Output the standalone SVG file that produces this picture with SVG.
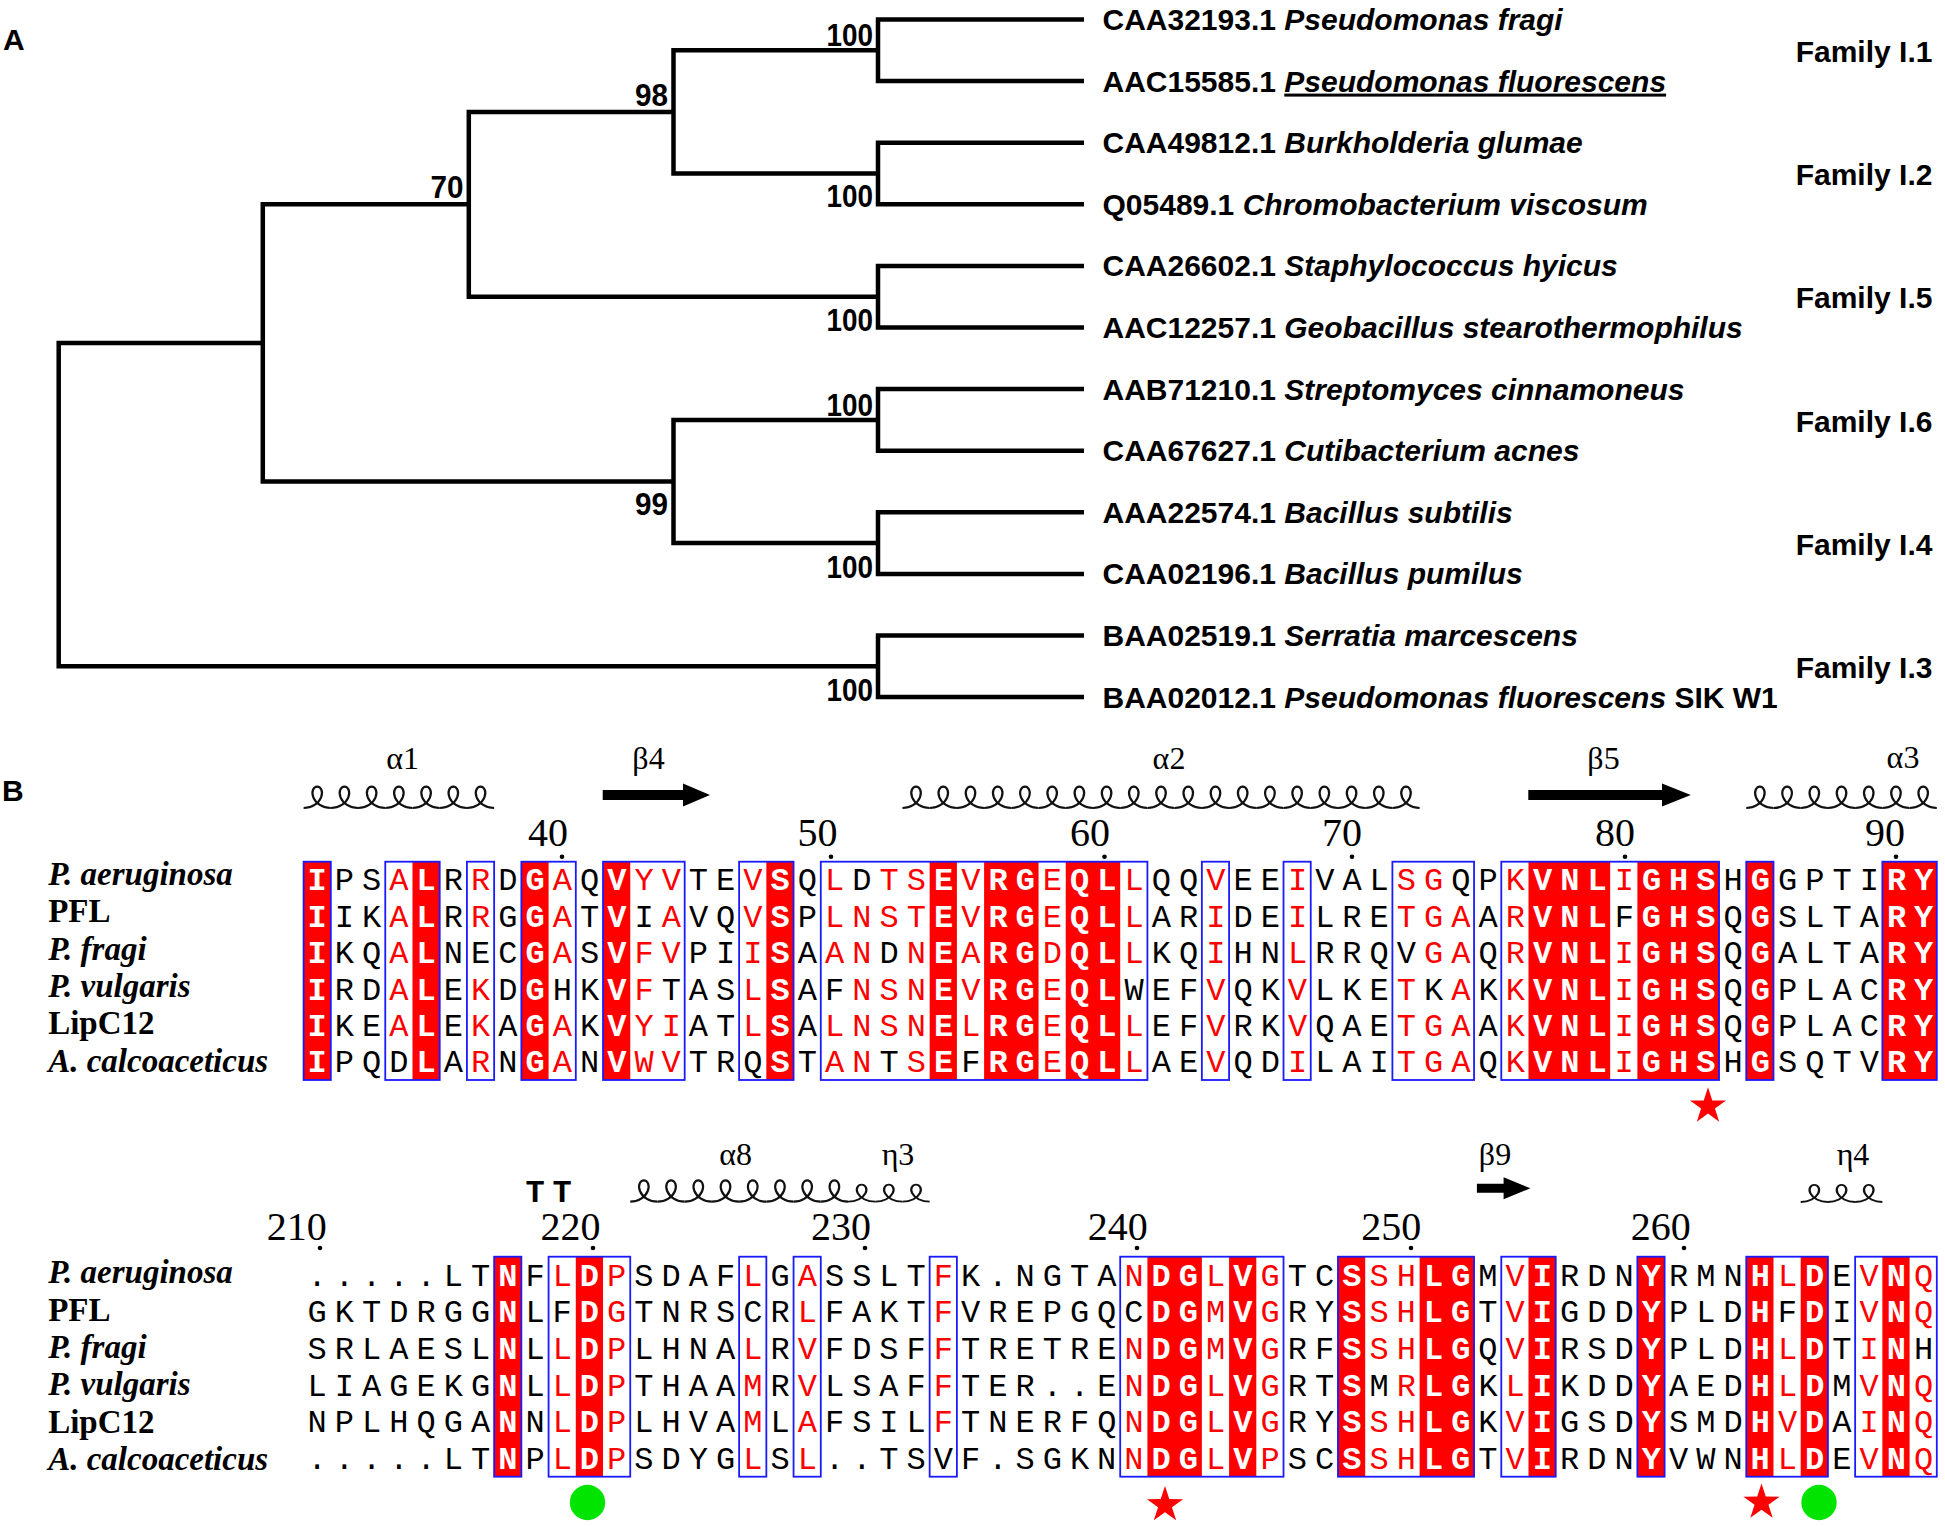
<svg xmlns="http://www.w3.org/2000/svg" width="1945" height="1526" viewBox="0 0 1945 1526">
<style>
.tree{fill:none;stroke:#000;stroke-width:4.5;stroke-linecap:butt;stroke-linejoin:miter}
.lf{font-family:"Liberation Sans",Arial,sans-serif;font-weight:bold;font-size:30px;fill:#000}
.it{font-style:italic}
.ul{text-decoration:underline}
.bs{font-family:"Liberation Sans",Arial,sans-serif;font-weight:bold;font-size:32px;text-anchor:end;fill:#000}
.pl{font-family:"Liberation Sans",Arial,sans-serif;font-weight:bold;font-size:30px;fill:#000}
.nm{font-family:"Liberation Serif","Times New Roman",serif;font-weight:bold;font-style:italic;font-size:33px;fill:#000}
.up{font-style:normal}
.s{font-family:"Liberation Mono","Courier New",monospace;font-size:32px;letter-spacing:8.017px;fill:#000}
.r{fill:#ff0000}
.w{fill:#fff;font-weight:bold}
.num{font-family:"Liberation Serif","Times New Roman",serif;font-size:40px;text-anchor:end;fill:#000}
.ss{font-family:"Liberation Serif","Times New Roman",serif;font-size:32px;text-anchor:middle;fill:#000}
.tt{font-family:"Liberation Mono","Courier New",monospace;font-weight:bold;font-size:32px;text-anchor:middle;fill:#000}
.cf{fill:#ff0000}
.bx{fill:none;stroke:#1a1aff;stroke-width:1.8}
.hx{fill:none;stroke:#111;stroke-width:2.2}
.arr{fill:#000}
.star{fill:#ff0000}
.gc{fill:#00e400}
</style>
<defs>
<path id="loop" d="M0,0 C3.935,0 7.853,-1.153 10.968,-3.134 C14.083,-5.115 16.371,-7.899 17.505,-10.7 C18.639,-13.501 18.62,-16.285 17.773,-18.266 C16.926,-20.247 15.276,-21.4 13.609,-21.4 C11.942,-21.4 10.293,-20.247 9.446,-18.266 C8.599,-16.285 8.58,-13.501 9.714,-10.7 C10.848,-7.899 13.135,-5.115 16.25,-3.134 C19.365,-1.153 23.283,0 27.22,0"/>
<polygon id="star5" points="0,-19 4.291,-5.906 18.07,-5.871 6.943,2.256 11.168,15.371 0,7.3 -11.168,15.371 -6.943,2.256 -18.07,-5.871 -4.291,-5.906"/>
</defs>
<rect width="1945" height="1526" fill="#fff"/>

<!-- Panel A -->
<text class="pl" x="3" y="50">A</text>
<g id="tree-connectors" class="tree">
<path d="M262.8,342.9 H58.7 V666.3 H878"/>
<path d="M468.8,204.3 H262.8 V481.5 H673.5"/>
<path d="M673.5,111.9 H468.8 V296.7 H878"/>
<path d="M878,50.3 H673.5 V173.5 H878"/>
<path d="M878,419.9 H673.5 V543.1 H878"/>
<path d="M1084,19.5 H878 V81.1 H1084"/>
<path d="M1084,142.7 H878 V204.3 H1084"/>
<path d="M1084,265.9 H878 V327.5 H1084"/>
<path d="M1084,389.1 H878 V450.7 H1084"/>
<path d="M1084,512.3 H878 V573.9 H1084"/>
<path d="M1084,635.5 H878 V697.1 H1084"/>
</g>
<g id="bootstrap">
<text class="bs" x="873" y="45.5" textLength="46.5" lengthAdjust="spacingAndGlyphs">100</text>
<text class="bs" x="668" y="105.5" textLength="33" lengthAdjust="spacingAndGlyphs">98</text>
<text class="bs" x="463.6" y="198.3" textLength="33" lengthAdjust="spacingAndGlyphs">70</text>
<text class="bs" x="873" y="206.6" textLength="46.5" lengthAdjust="spacingAndGlyphs">100</text>
<text class="bs" x="873" y="330.6" textLength="46.5" lengthAdjust="spacingAndGlyphs">100</text>
<text class="bs" x="873" y="415.5" textLength="46.5" lengthAdjust="spacingAndGlyphs">100</text>
<text class="bs" x="668" y="515" textLength="33" lengthAdjust="spacingAndGlyphs">99</text>
<text class="bs" x="873" y="577.6" textLength="46.5" lengthAdjust="spacingAndGlyphs">100</text>
<text class="bs" x="873" y="701" textLength="46.5" lengthAdjust="spacingAndGlyphs">100</text>
</g>
<g id="leaf-CAA32193"><text class="lf" x="1102.5" y="30">CAA32193.1 <tspan class="it">Pseudomonas fragi</tspan></text></g>
<g id="leaf-AAC15585"><text class="lf" x="1102.5" y="91.6">AAC15585.1 <tspan class="it ul">Pseudomonas fluorescens</tspan></text></g>
<g id="leaf-CAA49812"><text class="lf" x="1102.5" y="153.2">CAA49812.1 <tspan class="it">Burkholderia glumae</tspan></text></g>
<g id="leaf-Q05489"><text class="lf" x="1102.5" y="214.8">Q05489.1 <tspan class="it">Chromobacterium viscosum</tspan></text></g>
<g id="leaf-CAA26602"><text class="lf" x="1102.5" y="276.4">CAA26602.1 <tspan class="it">Staphylococcus hyicus</tspan></text></g>
<g id="leaf-AAC12257"><text class="lf" x="1102.5" y="338">AAC12257.1 <tspan class="it">Geobacillus stearothermophilus</tspan></text></g>
<g id="leaf-AAB71210"><text class="lf" x="1102.5" y="399.6">AAB71210.1 <tspan class="it">Streptomyces cinnamoneus</tspan></text></g>
<g id="leaf-CAA67627"><text class="lf" x="1102.5" y="461.2">CAA67627.1 <tspan class="it">Cutibacterium acnes</tspan></text></g>
<g id="leaf-AAA22574"><text class="lf" x="1102.5" y="522.8">AAA22574.1 <tspan class="it">Bacillus subtilis</tspan></text></g>
<g id="leaf-CAA02196"><text class="lf" x="1102.5" y="584.4">CAA02196.1 <tspan class="it">Bacillus pumilus</tspan></text></g>
<g id="leaf-BAA02519"><text class="lf" x="1102.5" y="646">BAA02519.1 <tspan class="it">Serratia marcescens</tspan></text></g>
<g id="leaf-BAA02012"><text class="lf" x="1102.5" y="707.6">BAA02012.1 <tspan class="it">Pseudomonas fluorescens</tspan> SIK W1</text></g>
<g id="families">
<text class="lf" x="1795.7" y="62">Family I.1</text>
<text class="lf" x="1795.7" y="185.2">Family I.2</text>
<text class="lf" x="1795.7" y="308.4">Family I.5</text>
<text class="lf" x="1795.7" y="431.6">Family I.6</text>
<text class="lf" x="1795.7" y="554.8">Family I.4</text>
<text class="lf" x="1795.7" y="678">Family I.3</text>
</g>

<!-- Panel B -->
<text class="pl" x="2" y="801">B</text>

<g id="block1">
<g id="b1-ss">
<text class="ss" x="402.6" y="769">α1</text>
<text class="ss" x="648.5" y="769">β4</text>
<text class="ss" x="1169" y="769">α2</text>
<text class="ss" x="1603.5" y="769">β5</text>
<text class="ss" x="1903" y="768">α3</text>
<g class="hx">
<use href="#loop" x="303.6" y="808"/><use href="#loop" x="330.82" y="808"/><use href="#loop" x="358.04" y="808"/><use href="#loop" x="385.26" y="808"/><use href="#loop" x="412.48" y="808"/><use href="#loop" x="439.7" y="808"/><use href="#loop" x="466.92" y="808"/>
<use href="#loop" x="902.44" y="808"/><use href="#loop" x="929.66" y="808"/><use href="#loop" x="956.88" y="808"/><use href="#loop" x="984.1" y="808"/><use href="#loop" x="1011.32" y="808"/><use href="#loop" x="1038.54" y="808"/><use href="#loop" x="1065.76" y="808"/><use href="#loop" x="1092.98" y="808"/><use href="#loop" x="1120.2" y="808"/><use href="#loop" x="1147.42" y="808"/><use href="#loop" x="1174.64" y="808"/><use href="#loop" x="1201.86" y="808"/><use href="#loop" x="1229.08" y="808"/><use href="#loop" x="1256.3" y="808"/><use href="#loop" x="1283.52" y="808"/><use href="#loop" x="1310.74" y="808"/><use href="#loop" x="1337.96" y="808"/><use href="#loop" x="1365.18" y="808"/><use href="#loop" x="1392.4" y="808"/>
<use href="#loop" x="1746.26" y="808"/><use href="#loop" x="1773.48" y="808"/><use href="#loop" x="1800.7" y="808"/><use href="#loop" x="1827.92" y="808"/><use href="#loop" x="1855.14" y="808"/><use href="#loop" x="1882.36" y="808"/><use href="#loop" x="1909.58" y="808"/>
</g>
<polygon class="arr" points="602.7,790 683,790 683,783.5 710,795 683,806.5 683,800 602.7,800"/>
<polygon class="arr" points="1528.3,790 1662,790 1662,783.5 1690.8,795 1662,806.5 1662,800 1528.3,800"/>
</g>
<g id="b1-numbers">
<text class="num" x="568" y="846">40</text>
<text class="num" x="837.5" y="846">50</text>
<text class="num" x="1110" y="846">60</text>
<text class="num" x="1362" y="846">70</text>
<text class="num" x="1635" y="846">80</text>
<text class="num" x="1905" y="846">90</text>
<circle cx="562" cy="856.7" r="2.3"/><circle cx="831" cy="856.7" r="2.3"/><circle cx="1104.5" cy="856.7" r="2.3"/><circle cx="1352" cy="856.7" r="2.3"/><circle cx="1625" cy="856.7" r="2.3"/><circle cx="1896" cy="856.7" r="2.3"/>
</g>
<g id="b1-fill" class="cf">
<rect x="303.6" y="861.7" width="27.22" height="218.3"/>
<rect x="412.48" y="861.7" width="27.22" height="218.3"/>
<rect x="521.36" y="861.7" width="27.22" height="218.3"/>
<rect x="603.02" y="861.7" width="27.22" height="218.3"/>
<rect x="766.34" y="861.7" width="27.22" height="218.3"/>
<rect x="929.66" y="861.7" width="27.22" height="218.3"/>
<rect x="984.1" y="861.7" width="54.44" height="218.3"/>
<rect x="1065.76" y="861.7" width="54.44" height="218.3"/>
<rect x="1528.5" y="861.7" width="81.66" height="218.3"/>
<rect x="1637.38" y="861.7" width="81.66" height="218.3"/>
<rect x="1746.26" y="861.7" width="27.22" height="218.3"/>
<rect x="1882.36" y="861.7" width="54.44" height="218.3"/>
</g>
<g id="b1-boxes" class="bx">
<rect x="303.6" y="861.7" width="27.22" height="218.3"/>
<rect x="385.26" y="861.7" width="54.44" height="218.3"/>
<rect x="466.92" y="861.7" width="27.22" height="218.3"/>
<rect x="521.36" y="861.7" width="54.44" height="218.3"/>
<rect x="603.02" y="861.7" width="81.66" height="218.3"/>
<rect x="739.12" y="861.7" width="54.44" height="218.3"/>
<rect x="820.78" y="861.7" width="326.64" height="218.3"/>
<rect x="1201.86" y="861.7" width="27.22" height="218.3"/>
<rect x="1283.52" y="861.7" width="27.22" height="218.3"/>
<rect x="1392.4" y="861.7" width="81.66" height="218.3"/>
<rect x="1501.28" y="861.7" width="217.76" height="218.3"/>
<rect x="1746.26" y="861.7" width="27.22" height="218.3"/>
<rect x="1882.36" y="861.7" width="54.44" height="218.3"/>
</g>
<g id="b1-names">
<text class="nm" x="48.2" y="885">P. aeruginosa</text>
<text class="nm" x="48.2" y="922.3"><tspan class="up">PFL</tspan></text>
<text class="nm" x="48.2" y="959.6">P. fragi</text>
<text class="nm" x="48.2" y="996.9">P. vulgaris</text>
<text class="nm" x="48.2" y="1034.2"><tspan class="up">LipC12</tspan></text>
<text class="nm" x="48.2" y="1071.5">A. calcoaceticus</text>
</g>
<g id="b1-seq">
<text class="s" x="307.61" y="890.4"><tspan class="w">I</tspan>PS<tspan class="r">A</tspan><tspan class="w">L</tspan>R<tspan class="r">R</tspan>D<tspan class="w">G</tspan><tspan class="r">A</tspan>Q<tspan class="w">V</tspan><tspan class="r">YV</tspan>TE<tspan class="r">V</tspan><tspan class="w">S</tspan>Q<tspan class="r">L</tspan>D<tspan class="r">TS</tspan><tspan class="w">E</tspan><tspan class="r">V</tspan><tspan class="w">RG</tspan><tspan class="r">E</tspan><tspan class="w">QL</tspan><tspan class="r">L</tspan>QQ<tspan class="r">V</tspan>EE<tspan class="r">I</tspan>VAL<tspan class="r">SG</tspan>QP<tspan class="r">K</tspan><tspan class="w">VNL</tspan><tspan class="r">I</tspan><tspan class="w">GHS</tspan>H<tspan class="w">G</tspan>GPTI<tspan class="w">RY</tspan></text>
<text class="s" x="307.61" y="926.8"><tspan class="w">I</tspan>IK<tspan class="r">A</tspan><tspan class="w">L</tspan>R<tspan class="r">R</tspan>G<tspan class="w">G</tspan><tspan class="r">A</tspan>T<tspan class="w">V</tspan>I<tspan class="r">A</tspan>VQ<tspan class="r">V</tspan><tspan class="w">S</tspan>P<tspan class="r">LNST</tspan><tspan class="w">E</tspan><tspan class="r">V</tspan><tspan class="w">RG</tspan><tspan class="r">E</tspan><tspan class="w">QL</tspan><tspan class="r">L</tspan>AR<tspan class="r">I</tspan>DE<tspan class="r">I</tspan>LRE<tspan class="r">TGA</tspan>A<tspan class="r">R</tspan><tspan class="w">VNL</tspan>F<tspan class="w">GHS</tspan>Q<tspan class="w">G</tspan>SLTA<tspan class="w">RY</tspan></text>
<text class="s" x="307.61" y="963.2"><tspan class="w">I</tspan>KQ<tspan class="r">A</tspan><tspan class="w">L</tspan>NEC<tspan class="w">G</tspan><tspan class="r">A</tspan>S<tspan class="w">V</tspan><tspan class="r">FV</tspan>PI<tspan class="r">I</tspan><tspan class="w">S</tspan>A<tspan class="r">AN</tspan>D<tspan class="r">N</tspan><tspan class="w">E</tspan><tspan class="r">A</tspan><tspan class="w">RG</tspan><tspan class="r">D</tspan><tspan class="w">QL</tspan><tspan class="r">L</tspan>KQ<tspan class="r">I</tspan>HN<tspan class="r">L</tspan>RRQV<tspan class="r">GA</tspan>Q<tspan class="r">R</tspan><tspan class="w">VNL</tspan><tspan class="r">I</tspan><tspan class="w">GHS</tspan>Q<tspan class="w">G</tspan>ALTA<tspan class="w">RY</tspan></text>
<text class="s" x="307.61" y="999.5"><tspan class="w">I</tspan>RD<tspan class="r">A</tspan><tspan class="w">L</tspan>E<tspan class="r">K</tspan>D<tspan class="w">G</tspan>HK<tspan class="w">V</tspan><tspan class="r">F</tspan>TAS<tspan class="r">L</tspan><tspan class="w">S</tspan>AF<tspan class="r">NSN</tspan><tspan class="w">E</tspan><tspan class="r">V</tspan><tspan class="w">RG</tspan><tspan class="r">E</tspan><tspan class="w">QL</tspan>WEF<tspan class="r">V</tspan>QK<tspan class="r">V</tspan>LKE<tspan class="r">T</tspan>K<tspan class="r">A</tspan>K<tspan class="r">K</tspan><tspan class="w">VNL</tspan><tspan class="r">I</tspan><tspan class="w">GHS</tspan>Q<tspan class="w">G</tspan>PLAC<tspan class="w">RY</tspan></text>
<text class="s" x="307.61" y="1035.9"><tspan class="w">I</tspan>KE<tspan class="r">A</tspan><tspan class="w">L</tspan>E<tspan class="r">K</tspan>A<tspan class="w">G</tspan><tspan class="r">A</tspan>K<tspan class="w">V</tspan><tspan class="r">YI</tspan>AT<tspan class="r">L</tspan><tspan class="w">S</tspan>A<tspan class="r">LNSN</tspan><tspan class="w">E</tspan><tspan class="r">L</tspan><tspan class="w">RG</tspan><tspan class="r">E</tspan><tspan class="w">QL</tspan><tspan class="r">L</tspan>EF<tspan class="r">V</tspan>RK<tspan class="r">V</tspan>QAE<tspan class="r">TGA</tspan>A<tspan class="r">K</tspan><tspan class="w">VNL</tspan><tspan class="r">I</tspan><tspan class="w">GHS</tspan>Q<tspan class="w">G</tspan>PLAC<tspan class="w">RY</tspan></text>
<text class="s" x="307.61" y="1072.3"><tspan class="w">I</tspan>PQD<tspan class="w">L</tspan>A<tspan class="r">R</tspan>N<tspan class="w">G</tspan><tspan class="r">A</tspan>N<tspan class="w">V</tspan><tspan class="r">WV</tspan>TRQ<tspan class="w">S</tspan>T<tspan class="r">AN</tspan>T<tspan class="r">S</tspan><tspan class="w">E</tspan>F<tspan class="w">RG</tspan><tspan class="r">E</tspan><tspan class="w">QL</tspan><tspan class="r">L</tspan>AE<tspan class="r">V</tspan>QD<tspan class="r">I</tspan>LAI<tspan class="r">TGA</tspan>Q<tspan class="r">K</tspan><tspan class="w">VNL</tspan><tspan class="r">I</tspan><tspan class="w">GHS</tspan>H<tspan class="w">G</tspan>SQTV<tspan class="w">RY</tspan></text>
</g>
<use href="#star5" class="star" x="1708" y="1106.3"/>
</g>

<g id="block2">
<g id="b2-ss">
<text class="tt" x="535" y="1201.7">T</text>
<text class="tt" x="562.2" y="1201.7">T</text>
<text class="ss" x="735.6" y="1165">α8</text>
<text class="ss" x="898" y="1165">η3</text>
<text class="ss" x="1495" y="1165">β9</text>
<text class="ss" x="1853" y="1165">η4</text>
<g class="hx">
<use href="#loop" x="630.24" y="1201.7"/><use href="#loop" x="657.46" y="1201.7"/><use href="#loop" x="684.68" y="1201.7"/><use href="#loop" x="711.9" y="1201.7"/><use href="#loop" x="739.12" y="1201.7"/><use href="#loop" x="766.34" y="1201.7"/><use href="#loop" x="793.56" y="1201.7"/><use href="#loop" x="820.78" y="1201.7"/>
<use href="#loop" transform="translate(848,1201.7) scale(1,0.8)"/><use href="#loop" transform="translate(875.22,1201.7) scale(1,0.8)"/><use href="#loop" transform="translate(902.44,1201.7) scale(1,0.8)"/>
<use href="#loop" transform="translate(1800.7,1202) scale(1,0.8)"/><use href="#loop" transform="translate(1827.92,1202) scale(1,0.8)"/><use href="#loop" transform="translate(1855.14,1202) scale(1,0.8)"/>
</g>
<polygon class="arr" points="1476.9,1183.8 1503.6,1183.8 1503.6,1177.3 1530.4,1188.3 1503.6,1199.3 1503.6,1192.8 1476.9,1192.8"/>
</g>
<g id="b2-numbers">
<text class="num" x="326.7" y="1240">210</text>
<text class="num" x="600.4" y="1240">220</text>
<text class="num" x="871" y="1240">230</text>
<text class="num" x="1147.8" y="1240">240</text>
<text class="num" x="1421.3" y="1240">250</text>
<text class="num" x="1690.8" y="1240">260</text>
<circle cx="320" cy="1248" r="2.3"/><circle cx="593" cy="1248" r="2.3"/><circle cx="865" cy="1248" r="2.3"/><circle cx="1137" cy="1248" r="2.3"/><circle cx="1411" cy="1248" r="2.3"/><circle cx="1684" cy="1248" r="2.3"/>
</g>
<g id="b2-fill" class="cf">
<rect x="494.14" y="1256.7" width="27.22" height="220"/>
<rect x="575.8" y="1256.7" width="27.22" height="220"/>
<rect x="1147.42" y="1256.7" width="54.44" height="220"/>
<rect x="1229.08" y="1256.7" width="27.22" height="220"/>
<rect x="1337.96" y="1256.7" width="27.22" height="220"/>
<rect x="1419.62" y="1256.7" width="54.44" height="220"/>
<rect x="1528.5" y="1256.7" width="27.22" height="220"/>
<rect x="1637.38" y="1256.7" width="27.22" height="220"/>
<rect x="1746.26" y="1256.7" width="27.22" height="220"/>
<rect x="1800.7" y="1256.7" width="27.22" height="220"/>
<rect x="1882.36" y="1256.7" width="27.22" height="220"/>
</g>
<g id="b2-boxes" class="bx">
<rect x="494.14" y="1256.7" width="27.22" height="220"/>
<rect x="548.58" y="1256.7" width="81.66" height="220"/>
<rect x="739.12" y="1256.7" width="27.22" height="220"/>
<rect x="793.56" y="1256.7" width="27.22" height="220"/>
<rect x="929.66" y="1256.7" width="27.22" height="220"/>
<rect x="1120.2" y="1256.7" width="163.32" height="220"/>
<rect x="1337.96" y="1256.7" width="136.1" height="220"/>
<rect x="1501.28" y="1256.7" width="54.44" height="220"/>
<rect x="1637.38" y="1256.7" width="27.22" height="220"/>
<rect x="1746.26" y="1256.7" width="81.66" height="220"/>
<rect x="1855.14" y="1256.7" width="81.66" height="220"/>
</g>
<g id="b2-names">
<text class="nm" x="48.2" y="1283.3">P. aeruginosa</text>
<text class="nm" x="48.2" y="1320.6"><tspan class="up">PFL</tspan></text>
<text class="nm" x="48.2" y="1357.9">P. fragi</text>
<text class="nm" x="48.2" y="1395.2">P. vulgaris</text>
<text class="nm" x="48.2" y="1432.5"><tspan class="up">LipC12</tspan></text>
<text class="nm" x="48.2" y="1469.8">A. calcoaceticus</text>
</g>
<g id="b2-seq">
<text class="s" x="307.61" y="1285.5">.....LT<tspan class="w">N</tspan>F<tspan class="r">L</tspan><tspan class="w">D</tspan><tspan class="r">P</tspan>SDAF<tspan class="r">L</tspan>G<tspan class="r">A</tspan>SSLT<tspan class="r">F</tspan>K.NGTA<tspan class="r">N</tspan><tspan class="w">DG</tspan><tspan class="r">L</tspan><tspan class="w">V</tspan><tspan class="r">G</tspan>TC<tspan class="w">S</tspan><tspan class="r">SH</tspan><tspan class="w">LG</tspan>M<tspan class="r">V</tspan><tspan class="w">I</tspan>RDN<tspan class="w">Y</tspan>RMN<tspan class="w">H</tspan><tspan class="r">L</tspan><tspan class="w">D</tspan>E<tspan class="r">V</tspan><tspan class="w">N</tspan><tspan class="r">Q</tspan></text>
<text class="s" x="307.61" y="1322.2">GKTDRGG<tspan class="w">N</tspan>LF<tspan class="w">D</tspan><tspan class="r">G</tspan>TNRSCR<tspan class="r">L</tspan>FAKT<tspan class="r">F</tspan>VREPGQC<tspan class="w">DG</tspan><tspan class="r">M</tspan><tspan class="w">V</tspan><tspan class="r">G</tspan>RY<tspan class="w">S</tspan><tspan class="r">SH</tspan><tspan class="w">LG</tspan>T<tspan class="r">V</tspan><tspan class="w">I</tspan>GDD<tspan class="w">Y</tspan>PLD<tspan class="w">H</tspan>F<tspan class="w">D</tspan>I<tspan class="r">V</tspan><tspan class="w">N</tspan><tspan class="r">Q</tspan></text>
<text class="s" x="307.61" y="1358.9">SRLAESL<tspan class="w">N</tspan>L<tspan class="r">L</tspan><tspan class="w">D</tspan><tspan class="r">P</tspan>LHNA<tspan class="r">L</tspan>R<tspan class="r">V</tspan>FDSF<tspan class="r">F</tspan>TRETRE<tspan class="r">N</tspan><tspan class="w">DG</tspan><tspan class="r">M</tspan><tspan class="w">V</tspan><tspan class="r">G</tspan>RF<tspan class="w">S</tspan><tspan class="r">SH</tspan><tspan class="w">LG</tspan>Q<tspan class="r">V</tspan><tspan class="w">I</tspan>RSD<tspan class="w">Y</tspan>PLD<tspan class="w">H</tspan><tspan class="r">L</tspan><tspan class="w">D</tspan>T<tspan class="r">I</tspan><tspan class="w">N</tspan>H</text>
<text class="s" x="307.61" y="1395.5">LIAGEKG<tspan class="w">N</tspan>L<tspan class="r">L</tspan><tspan class="w">D</tspan><tspan class="r">P</tspan>THAA<tspan class="r">M</tspan>R<tspan class="r">V</tspan>LSAF<tspan class="r">F</tspan>TER..E<tspan class="r">N</tspan><tspan class="w">DG</tspan><tspan class="r">L</tspan><tspan class="w">V</tspan><tspan class="r">G</tspan>RT<tspan class="w">S</tspan>M<tspan class="r">R</tspan><tspan class="w">LG</tspan>K<tspan class="r">L</tspan><tspan class="w">I</tspan>KDD<tspan class="w">Y</tspan>AED<tspan class="w">H</tspan><tspan class="r">L</tspan><tspan class="w">D</tspan>M<tspan class="r">V</tspan><tspan class="w">N</tspan><tspan class="r">Q</tspan></text>
<text class="s" x="307.61" y="1432.2">NPLHQGA<tspan class="w">N</tspan>N<tspan class="r">L</tspan><tspan class="w">D</tspan><tspan class="r">P</tspan>LHVA<tspan class="r">M</tspan>L<tspan class="r">A</tspan>FSIL<tspan class="r">F</tspan>TNERFQ<tspan class="r">N</tspan><tspan class="w">DG</tspan><tspan class="r">L</tspan><tspan class="w">V</tspan><tspan class="r">G</tspan>RY<tspan class="w">S</tspan><tspan class="r">SH</tspan><tspan class="w">LG</tspan>K<tspan class="r">V</tspan><tspan class="w">I</tspan>GSD<tspan class="w">Y</tspan>SMD<tspan class="w">H</tspan><tspan class="r">V</tspan><tspan class="w">D</tspan>A<tspan class="r">I</tspan><tspan class="w">N</tspan><tspan class="r">Q</tspan></text>
<text class="s" x="307.61" y="1468.9">.....LT<tspan class="w">N</tspan>P<tspan class="r">L</tspan><tspan class="w">D</tspan><tspan class="r">P</tspan>SDYG<tspan class="r">L</tspan>S<tspan class="r">L</tspan>..TSVF.SGKN<tspan class="r">N</tspan><tspan class="w">DG</tspan><tspan class="r">L</tspan><tspan class="w">V</tspan><tspan class="r">P</tspan>SC<tspan class="w">S</tspan><tspan class="r">SH</tspan><tspan class="w">LG</tspan>T<tspan class="r">V</tspan><tspan class="w">I</tspan>RDN<tspan class="w">Y</tspan>VWN<tspan class="w">H</tspan><tspan class="r">L</tspan><tspan class="w">D</tspan>E<tspan class="r">V</tspan><tspan class="w">N</tspan><tspan class="r">Q</tspan></text>
</g>
<circle class="gc" cx="587.5" cy="1502.5" r="17.7"/>
<use href="#star5" class="star" x="1165" y="1505"/>
<use href="#star5" class="star" x="1761.5" y="1502.5"/>
<circle class="gc" cx="1819" cy="1502.5" r="17.7"/>
</g>
</svg>
